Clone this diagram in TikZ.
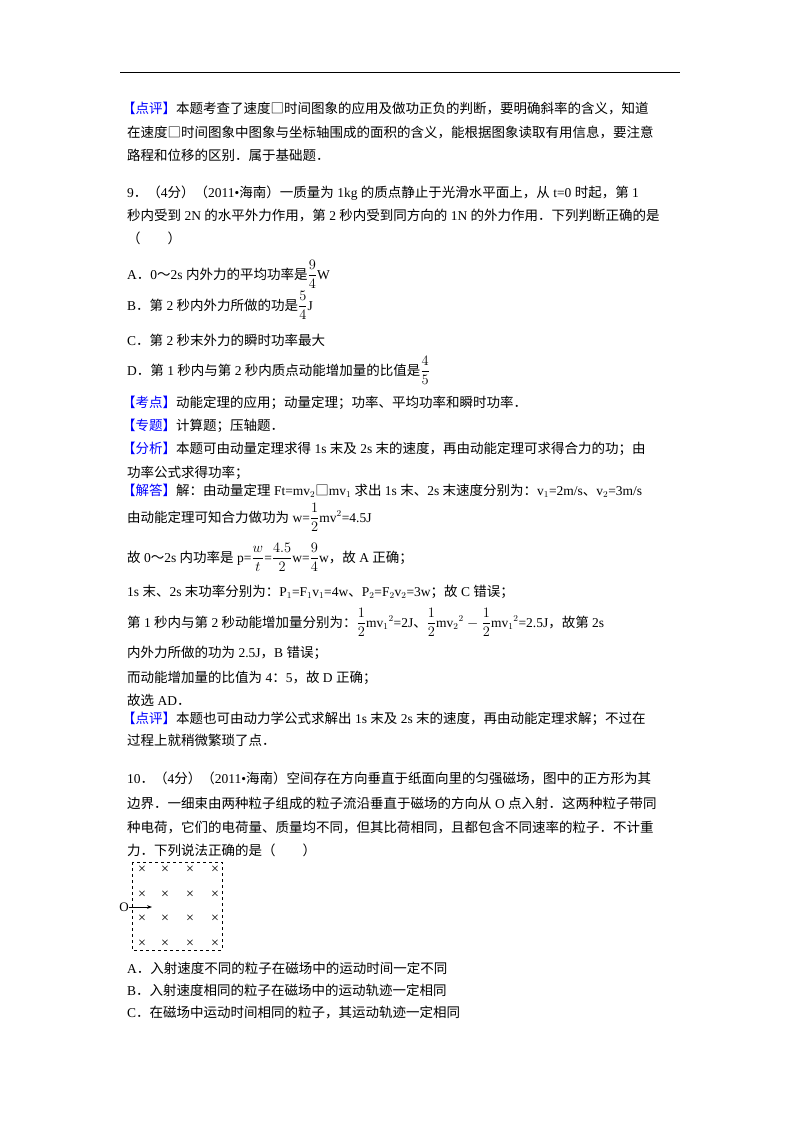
\documentclass[tikz,border=0pt]{standalone}
\usepackage{fontspec}
\setmainfont{Liberation Serif}
\newfontfamily\cjk{Noto Sans CJK SC}
\usetikzlibrary{arrows.meta}
\begin{document}
\begin{tikzpicture}[x=1pt,y=-1pt,
  ln/.style={anchor=base west,inner sep=0pt,font=\fontsize{13.5}{16}\selectfont},
  crs/.style={font=\fontsize{14}{14}\selectfont,inner sep=0pt}]
\useasboundingbox[fill=white] (0,0) rectangle (800,1132);
\newcommand\C[1]{{\cjk #1}}
\newcommand\B[1]{{\cjk\color{blue}【#1】}}
\newcommand\F[2]{$\displaystyle\frac{#1}{#2}$}
\draw[line width=0.8pt] (120,72) -- (680,72);
\node[ln] (l1) at (122,113) {\B{点评}\C{本题考查了速度□时间图象的应用及做功正负的判断，要明确斜率的含义，知道}};
\node[ln] (l2) at (127,137) {\C{在速度□时间图象中图象与坐标轴围成的面积的含义，能根据图象读取有用信息，要注意}};
\node[ln] (l3) at (127,160) {\C{路程和位移的区别．属于基础题．}};
\node[ln] (q1) at (127,197) {9\C{．（}4\C{分）（}2011\textbullet\C{海南）一质量为} 1kg \C{的质点静止于光滑水平面上，从} t=0 \C{时起，第} 1};
\node[ln] (q2) at (127,220) {\C{秒内受到} 2N \C{的水平外力作用，第} 2 \C{秒内受到同方向的} 1N \C{的外力作用．下列判断正确的是}};
\node[ln] (q3) at (127,243) {\C{（　　）}};
\node[ln] (a) at (127,279) {A\C{．}0\C{～}2s \C{内外力的平均功率是}\F{9}{4}W};
\node[ln] (b) at (127,310) {B\C{．第} 2 \C{秒内外力所做的功是}\F{5}{4}J};
\node[ln] (c) at (127,345) {C\C{．第} 2 \C{秒末外力的瞬时功率最大}};
\node[ln] (d) at (127,375) {D\C{．第} 1 \C{秒内与第} 2 \C{秒内质点动能增加量的比值是}\F{4}{5}};
\node[ln] (k1) at (122,407) {\B{考点}\C{动能定理的应用；动量定理；功率、平均功率和瞬时功率．}};
\node[ln] (k2) at (122,430) {\B{专题}\C{计算题；压轴题．}};
\node[ln] (k3) at (122,453) {\B{分析}\C{本题可由动量定理求得} 1s \C{末及} 2s \C{末的速度，再由动能定理可求得合力的功；由}};
\node[ln] (k4) at (127,477) {\C{功率公式求得功率；}};
\node[ln] (s1) at (122,495) {\B{解答}\C{解：由动量定理} Ft=mv$_2$\C{□}mv$_1$ \C{求出} 1s \C{末、}2s \C{末速度分别为：}v$_1$=2m/s\C{、}v$_2$=3m/s};
\node[ln] (s2) at (127,522) {\C{由动能定理可知合力做功为} w=\F{1}{2}mv$^2$=4.5J};
\node[ln] (s3) at (127,562) {\C{故} 0\C{～}2s \C{内功率是} p=\F{w}{t}=\F{4.5}{2}w=\F{9}{4}w\C{，故} A \C{正确；}};
\node[ln] (s4) at (127,596) {1s \C{末、}2s \C{末功率分别为：}P$_1$=F$_1$v$_1$=4w\C{、}P$_2$=F$_2$v$_2$=3w\C{；故} C \C{错误；}};
\node[ln] (s5) at (127,627) {\C{第} 1 \C{秒内与第} 2 \C{秒动能增加量分别为：}\F{1}{2}mv$_1{}^2$=2J\C{、}\F{1}{2}mv$_2{}^2$ $-$ \F{1}{2}mv$_1{}^2$=2.5J\C{，故第} 2s};
\node[ln] (s6) at (127,657) {\C{内外力所做的功为} 2.5J\C{，}B \C{错误；}};
\node[ln] (s7) at (127,682) {\C{而动能增加量的比值为} 4\C{：}5\C{，故} D \C{正确；}};
\node[ln] (s8) at (127,705) {\C{故选} AD\C{．}};
\node[ln] (p1) at (122,723) {\B{点评}\C{本题也可由动力学公式求解出} 1s \C{末及} 2s \C{末的速度，再由动能定理求解；不过在}};
\node[ln] (p2) at (127,745) {\C{过程上就稍微繁琐了点．}};
\node[ln] (t1) at (127,783) {10\C{．（}4\C{分）（}2011\textbullet\C{海南）空间存在方向垂直于纸面向里的匀强磁场，图中的正方形为其}};
\node[ln] (t2) at (127,808) {\C{边界．一细束由两种粒子组成的粒子流沿垂直于磁场的方向从} O \C{点入射．这两种粒子带同}};
\node[ln] (t3) at (127,832) {\C{种电荷，它们的电荷量、质量均不同，但其比荷相同，且都包含不同速率的粒子．不计重}};
\node[ln] (t4) at (127,855) {\C{力．下列说法正确的是（　　）}};
% figure
\draw[dashed,line width=0.8pt] (132,862) rectangle (222,950);
\foreach \yy in {870,895,919,944}{\foreach \xx in {142,165,190,215}{\node[crs] at (\xx,\yy) {×};}}
\node[inner sep=0pt,font=\fontsize{13}{14}\selectfont] (O) at (124,907) {O};
\coordinate (tip) at (152,907);
\draw[-{Stealth[length=5pt]},line width=0.8pt] (O.east) -- (tip);
\node[ln] (oa) at (127,973) {A\C{．入射速度不同的粒子在磁场中的运动时间一定不同}};
\node[ln] (ob) at (127,995) {B\C{．入射速度相同的粒子在磁场中的运动轨迹一定相同}};
\node[ln] (oc) at (127,1017) {C\C{．在磁场中运动时间相同的粒子，其运动轨迹一定相同}};
\end{tikzpicture}
\end{document}
